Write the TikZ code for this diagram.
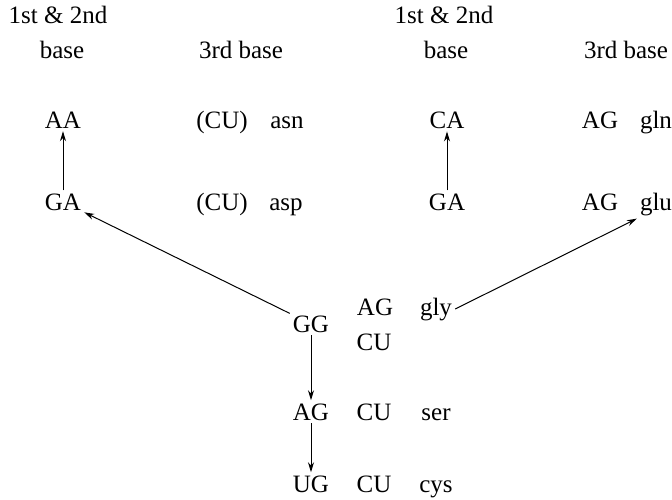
\documentclass[tikz,border=0pt]{standalone}
\usepackage{fontspec}
\setmainfont{Liberation Serif}
\usetikzlibrary{arrows.meta}

\begin{document}
\begin{tikzpicture}[x=1pt,y=-1pt,
	font=\fontsize{25}{30}\selectfont,
	every node/.style={anchor=base, inner sep=3pt},
	arr/.style={-{Stealth[length=10pt,width=6pt]}, line width=1pt}]
	\useasboundingbox (0,0) rectangle (672,499);

	% column heads
	\node at (58,23) (headl) {1st \& 2nd};
	\node at (62,58) (basel) {base};
	\node at (241,58) (thirdl) {3rd base};
	\node at (444,23) (headr) {1st \& 2nd};
	\node at (446,58) (baser) {base};
	\node at (626,58) (thirdr) {3rd base};

	% left block
	\node at (63,128) (aa) {AA};
	\node at (222,128) (cuasn) {(CU)};
	\node at (287,128) (asn) {asn};
	\node at (63,210) (gal) {GA};
	\node at (222,210) (cuasp) {(CU)};
	\node at (286,210) (asp) {asp};

	% right block
	\node at (447,128) (ca) {CA};
	\node at (600,128) (aggln) {AG};
	\node at (656,128) (gln) {gln};
	\node at (447,210) (gar) {GA};
	\node at (600,210) (agglu) {AG};
	\node at (656,210) (glu) {glu};

	% middle column
	\node at (311,332) (gg) {GG};
	\node at (375,315) (aggly) {AG};
	\node at (436,315) (gly) {gly};
	\node at (374,350) (cugly) {CU};
	\node at (311,420) (ag) {AG};
	\node at (374,420) (cuser) {CU};
	\node at (436,420) (ser) {ser};
	\node at (311,492) (ug) {UG};
	\node at (374,492) (cucys) {CU};
	\node at (436,492) (cys) {cys};

	\draw [arr] (gal) -- (aa);
	\draw [arr] (gar) -- (ca);
	\draw [arr] (gg) -- (gal);
	\draw [arr] (gly.east) -- (glu.south west);
	\draw [arr] (gg) -- (ag);
	\draw [arr] (ag) -- (ug);

\end{tikzpicture}
\end{document}
